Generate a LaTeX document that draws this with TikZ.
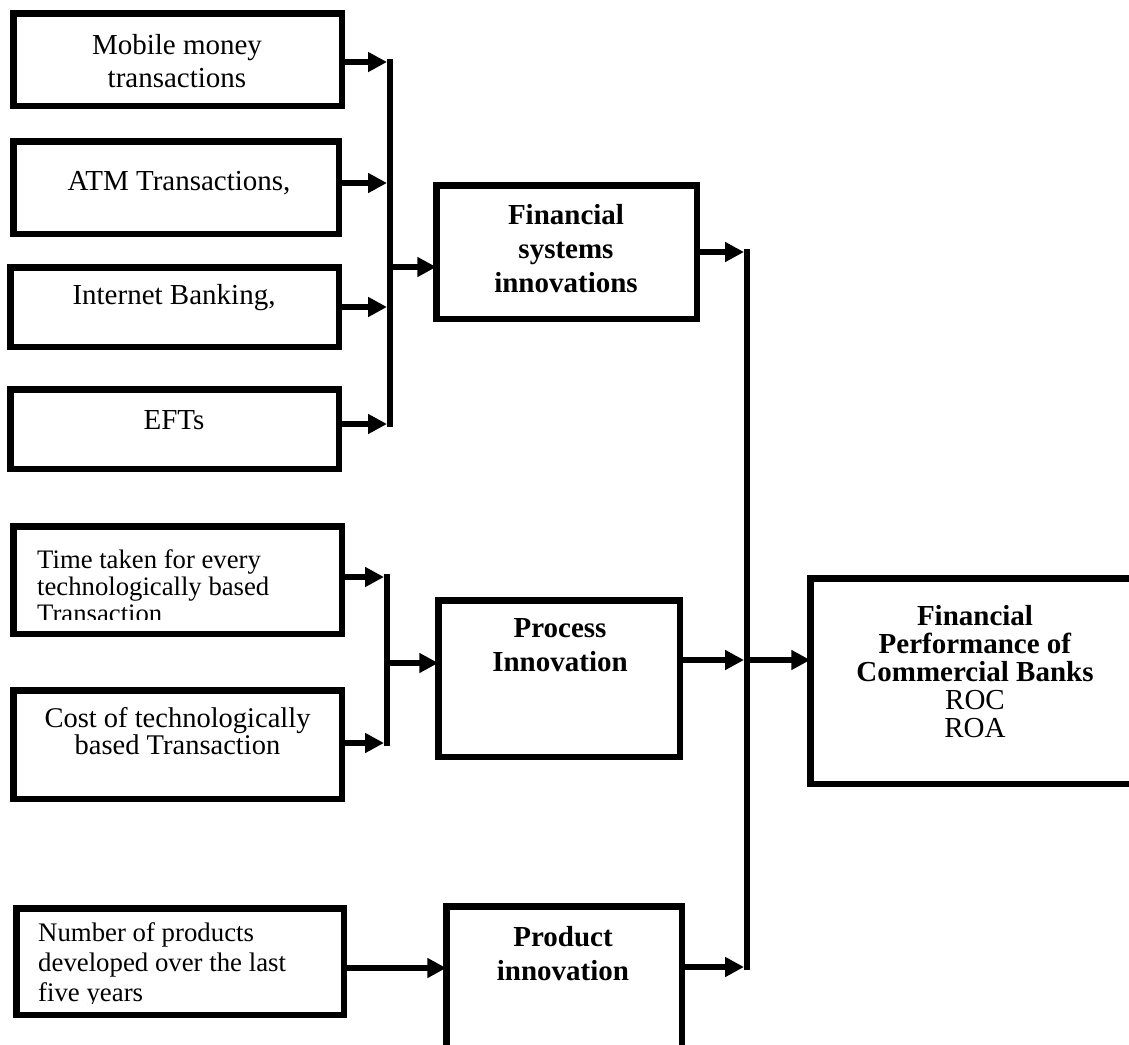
\documentclass[tikz,border=0pt]{standalone}
\usepackage{fontspec}
\setmainfont{Liberation Serif}
\usepackage{tikz}
\usetikzlibrary{arrows.meta, positioning}

\tikzset{
    box/.style={draw, line width=6.5pt, inner sep=0pt, outer sep=0pt},
    arr/.style={line width=6pt, -{Triangle[length=19pt, width=19pt]}},
    bus/.style={line width=6pt},
    lbl/.style={align=center, inner sep=0pt, font=\fontsize{29}{33}\selectfont},
    hd/.style={align=center, inner sep=0pt, font=\fontsize{29}{34}\selectfont\bfseries},
    smalllbl/.style={align=left, anchor=west, inner sep=0pt}
}

\begin{document}
\begin{tikzpicture}[x=1pt, y=-1pt]
    \path[use as bounding box, clip] (0,0) rectangle (1129,1044);

    % indicator boxes
    \node[box, minimum width=328.5pt, minimum height=92.5pt] (mobile) at (177.5,59.5) {};
    \node[box, minimum width=325.5pt, minimum height=92.5pt] (atm) at (176,187.5) {};
    \node[box, minimum width=328.5pt, minimum height=79.5pt] (internet) at (174.5,307) {};
    \node[box, minimum width=328.5pt, minimum height=79.5pt] (eft) at (174.5,429) {};
    \node[box, minimum width=328.5pt, minimum height=107.5pt] (time) at (177.5,580) {};
    \node[box, minimum width=328.5pt, minimum height=108.5pt] (cost) at (177.5,744.5) {};
    \node[box, minimum width=327.5pt, minimum height=106.5pt] (number) at (180,961.5) {};

    \node[lbl] (mobileTxt) at (177,61.5) {Mobile money\\transactions};
    \node[lbl] (atmTxt) at (179,183) {ATM Transactions,};
    \node[lbl] (internetTxt) at (174,298) {Internet Banking,};
    \node[lbl] (eftTxt) at (174,420) {EFTs};
    \begin{scope}
        \clip (13,527) rectangle (342,619);
        \node[smalllbl, font=\fontsize{26.7}{27}\selectfont] (timeTxt) at (37,586.5)
            {Time taken for every\\technologically based\\Transaction};
    \end{scope}
    \node[lbl, font=\fontsize{28.5}{27}\selectfont] (costTxt) at (177.5,731.5)
        {Cost of technologically\\based Transaction};
    \begin{scope}
        \clip (16,908) rectangle (344,1003);
        \node[smalllbl, font=\fontsize{26.8}{30}\selectfont] (numberTxt) at (38,965)
            {Number of products\\developed over the last\\five years};
    \end{scope}

    % innovation boxes
    \node[box, minimum width=260.5pt, minimum height=133.5pt] (fsi) at (566.5,252) {};
    \node[box, minimum width=241.5pt, minimum height=156.5pt] (proc) at (559,678.5) {};
    \node[box, minimum width=235.5pt, minimum height=170.5pt] (prod) at (564,991.5) {};
    \node[hd] (fsiTxt) at (566,249) {Financial\\systems\\innovations};
    \node[hd] (procTxt) at (560,645) {Process\\Innovation};
    \node[hd] (prodTxt) at (563,953.5) {Product\\innovation};

    % outcome
    \node[box, minimum width=329.5pt, minimum height=205.5pt] (perf) at (975,681) {};
    \node[lbl, font=\fontsize{29}{28}\selectfont] (perfTxt) at (975,671.5)
        {\textbf{Financial}\\\textbf{Performance of}\\\textbf{Commercial Banks}\\ROC\\ROA};

    % buses
    \coordinate (tipA) at (387,0);
    \coordinate (tipB) at (744,0);
    \coordinate (tipC) at (384,0);
    \coordinate (jA) at (389.5,267);
    \coordinate (jB) at (747,660);
    \coordinate (jC) at (387,663);
    \draw[bus] (389.5,59) -- (389.5,427);
    \draw[bus] (747,249) -- (747,970);
    \draw[bus] (387,574) -- (387,746);

    % arrows into the buses
    \draw[arr] ([yshift=-2.5pt]mobile.east) coordinate (p) -- (p -| tipA);
    \draw[arr] ([yshift=4.5pt]atm.east) coordinate (p) -- (p -| tipA);
    \draw[arr] (internet.east) -- (internet.east -| tipA);
    \draw[arr] ([yshift=5pt]eft.east) coordinate (p) -- (p -| tipA);
    \draw[arr] ([yshift=3pt]time.east) coordinate (p) -- (p -| tipC);
    \draw[arr] ([yshift=1.5pt]cost.east) coordinate (p) -- (p -| tipC);
    \draw[arr] (fsi.east) -- (fsi.east -| tipB);
    \draw[arr] ([yshift=18.5pt]proc.east) coordinate (p) -- (p -| tipB);
    \draw[arr] ([yshift=24.5pt]prod.east) coordinate (p) -- (p -| tipB);

    % arrows out of the buses
    \draw[arr] (jA) -- (jA -| fsi.west);
    \draw[arr] (jC) -- (jC -| proc.west);
    \draw[arr] (jB) -- (jB -| perf.west);
    \draw[arr] ([yshift=-6.5pt]number.east) coordinate (p) -- (p -| prod.west);
\end{tikzpicture}
\end{document}
